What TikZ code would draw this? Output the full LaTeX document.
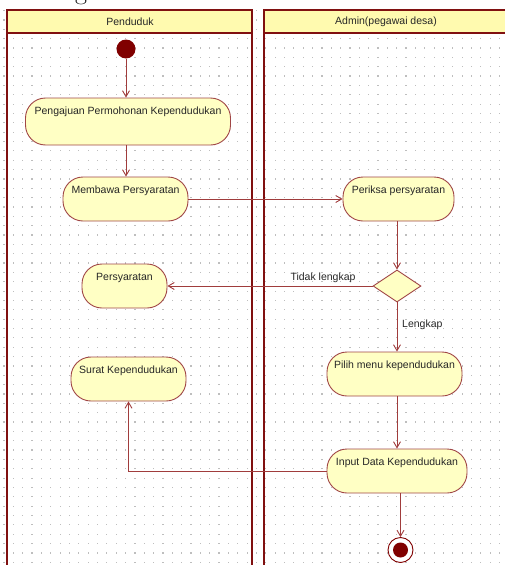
\documentclass[tikz,border=0pt]{standalone}
\usepackage{fontspec}
\newfontfamily\umlfont{Liberation Sans}
\usetikzlibrary{arrows.meta,shapes.geometric,calc}

\definecolor{laneRed}{RGB}{128,16,16}
\definecolor{edgeRed}{RGB}{160,60,60}
\definecolor{boxBorder}{RGB}{160,70,70}
\definecolor{boxFill}{RGB}{255,255,196}
\definecolor{headFill}{RGB}{255,250,175}
\definecolor{dotGray}{RGB}{190,190,190}
\definecolor{solidRed}{RGB}{128,0,0}

\tikzset{
  lane/.style={draw=laneRed, line width=1.8pt},
  header/.style={fill=headFill},
  activity/.style={draw=boxBorder, fill=boxFill, line width=0.9pt,
    rectangle, rounded corners=20pt, inner xsep=0pt, inner ysep=8pt,
    text height=8pt, text depth=20pt, minimum height=44pt,
    font=\umlfont\fontsize{10.5}{12}\selectfont, text=black!85},
  decision/.style={draw=boxBorder, fill=boxFill, line width=0.9pt,
    diamond, minimum width=48pt, minimum height=32pt, inner sep=0pt},
  flow/.style={draw=edgeRed, line width=0.9pt,
    -{Straight Barb[length=6pt,width=7pt,line width=0.9pt]}},
  edgelabel/.style={font=\umlfont\fontsize{10.5}{12}\selectfont, text=black!85, inner sep=0pt},
  lanetitle/.style={font=\umlfont\fontsize{10.5}{12}\selectfont, text=black!85, inner sep=0pt},
}

\begin{document}
\begin{tikzpicture}[x=1pt, y=-1pt]
  \useasboundingbox (0,0) rectangle (504,565);

  % descender of the caption line above the diagram
  \begin{scope}
    \clip (0,0) rectangle (504,565);
    \node[anchor=base, inner sep=0pt, font=\fontsize{26}{26}\selectfont] (capg) at (81,-0.5) {g};
  \end{scope}

  % dotted background grid
  \foreach \i in {0,...,53} {
    \foreach \j in {0,...,59} {
      \fill[dotGray] ({4+\i*9.35-0.6},{10.6+\j*9.35-0.6}) rectangle ++(1.2,1.2);
    }
  }

  % swimlanes
  \fill[header] (7,10) rectangle (252,33);
  \fill[header] (264,10) rectangle (510,33);
  \draw[lane] (7,575) -- (7,10) -- (252,10) -- (252,575);
  \draw[lane] (7,33) -- (252,33);
  \draw[lane] (264,575) -- (264,10) -- (510,10);
  \draw[lane] (264,33) -- (510,33);
  \node[lanetitle] (laneA) at (130,21.5) {Penduduk};
  \node[lanetitle] (laneB) at (386,21.5) {Admin(pegawai desa)};

  % initial and final states
  \node[circle, fill=solidRed, minimum size=19pt, inner sep=0pt] (start) at (126,49) {};
  \node[circle, draw=solidRed, fill=white, line width=0.9pt, minimum size=25pt, inner sep=0pt] (fin) at (400.5,550) {};
  \node[circle, fill=solidRed, minimum size=15pt, inner sep=0pt] (finc) at (400.5,550) {};

  % activities
  \node[activity, minimum width=205pt, minimum height=47pt, text depth=23pt] (pengajuan) at (128,121.5) {Pengajuan Permohonan Kependudukan};
  \node[activity, minimum width=125pt] (membawa) at (125.5,199) {Membawa Persyaratan};
  \node[activity, minimum width=111pt] (periksa) at (398.5,199) {Periksa persyaratan};
  \node[decision] (dec) at (397,286) {};
  \node[activity, minimum width=85pt] (syarat) at (124.5,286) {Persyaratan};
  \node[activity, minimum width=115pt] (surat) at (128.5,379) {Surat Kependudukan};
  \node[activity, minimum width=135pt] (pilih) at (394.5,374) {Pilih menu kependudukan};
  \node[activity, minimum width=140pt] (input) at (397,471) {Input Data Kependudukan};

  % flows
  \draw[flow] (start) -- (start |- pengajuan.north);
  \draw[flow] (pengajuan.south -| start) -- (membawa.north -| start);
  \draw[flow] (membawa.east) -- (periksa.west);
  \draw[flow] (periksa.south -| dec) -- (dec.north);
  \draw[flow] (dec.west) -- (syarat.east);
  \node[edgelabel] (tidak) at (323,278) {Tidak lengkap};
  \draw[flow] (dec.south) -- (pilih.north -| dec);
  \node[edgelabel, anchor=west] (lengkap) at (402,325) {Lengkap};
  \draw[flow] (pilih.south -| input) -- (input.north);
  \draw[flow] (input.west) -- (input.west -| surat.south) -- (surat.south);
  \draw[flow] (input.south -| fin) -- (fin.north);
\end{tikzpicture}
\end{document}
